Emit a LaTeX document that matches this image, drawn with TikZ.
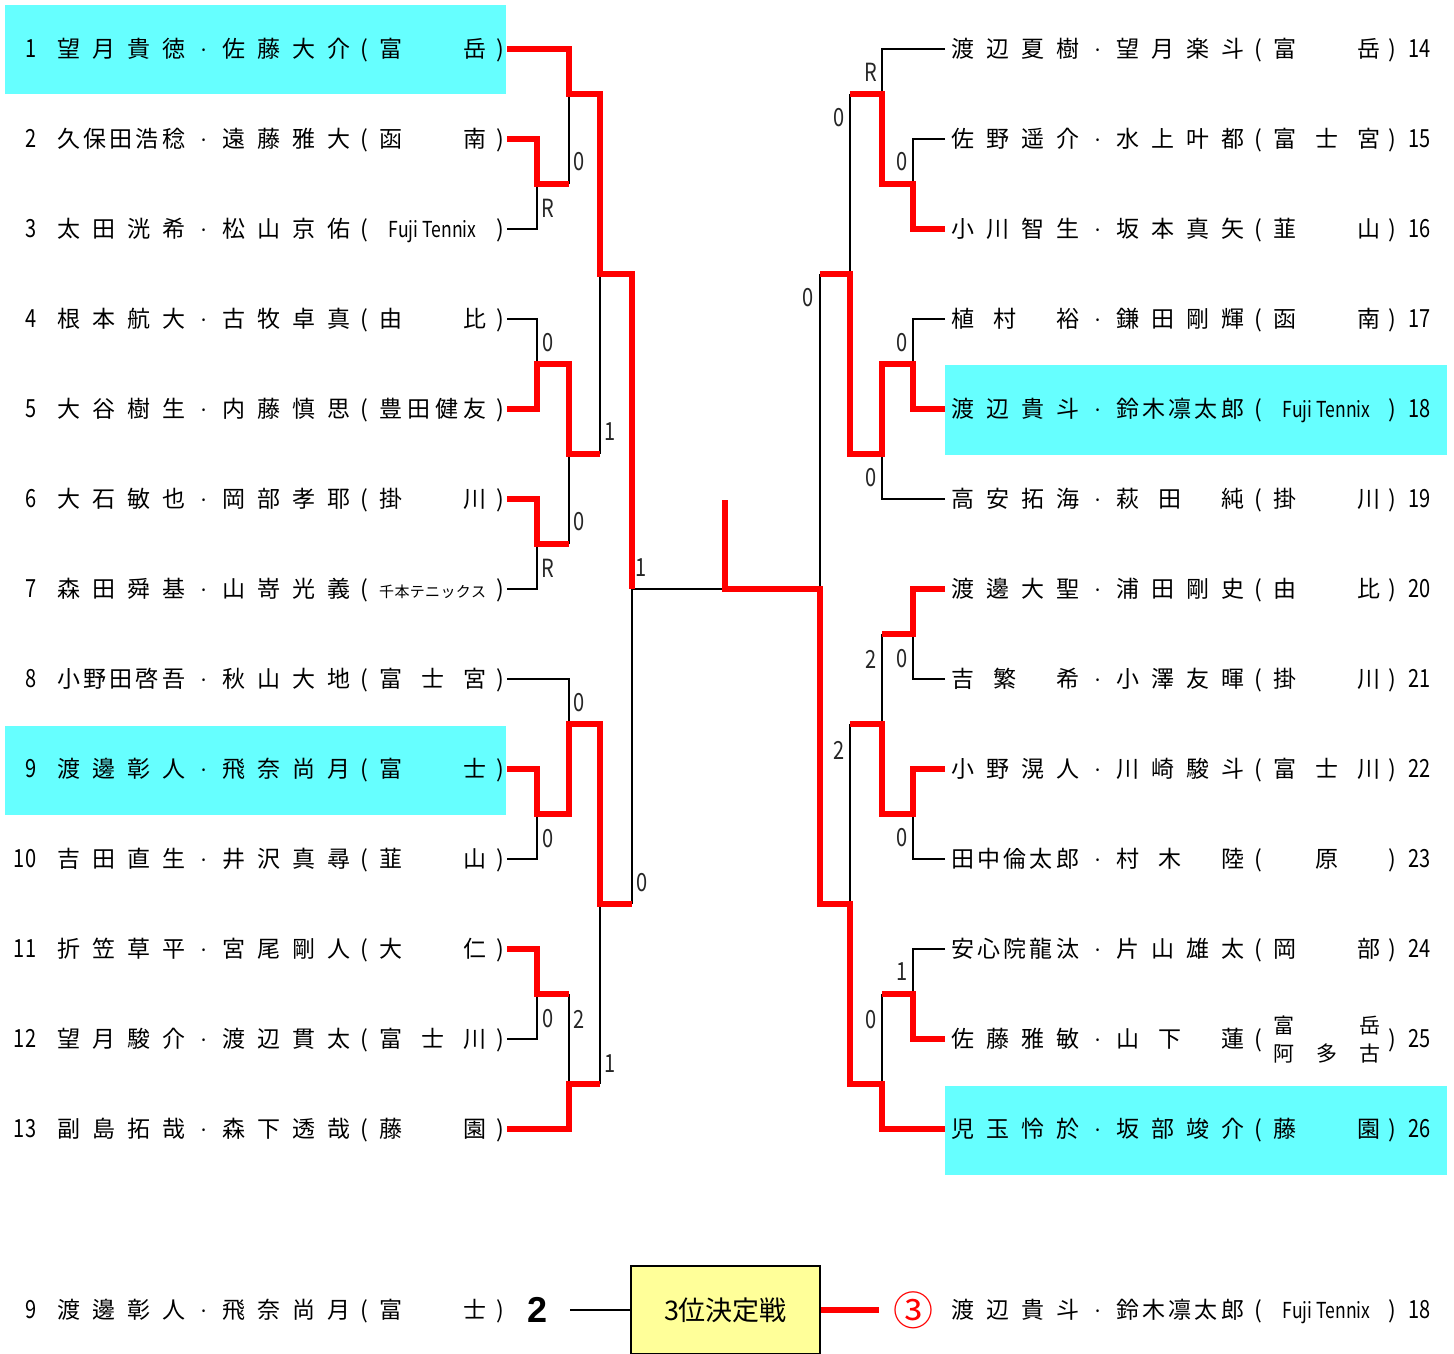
\documentclass[tikz,border=0pt]{standalone}
\usepackage{fontspec}
\usepackage{tikz}
\newfontfamily\jp{Noto Sans CJK JP}
\newfontfamily\jpn[FakeStretch=0.8]{Noto Sans CJK JP}
\newfontfamily\lat{Liberation Sans}
\definecolor{hilite}{HTML}{66FFFF}
\definecolor{thirdbg}{HTML}{FFFF99}

% digits and narrow latin
\newcommand\numf{\jpn\fontsize{25}{25}\selectfont}
% spread the characters of a field over its box, * leaves a blank cell
\def\spreadit#1{\sprdA#1\sprdEnd}
\def\sprdA#1#2\sprdEnd{\ifx*#1\else#1\fi\ifx\relax#2\relax\else\hfill\sprdA#2\sprdEnd\fi}
\newcommand\mdot{\makebox[37pt]{\fontsize{20}{20}\selectfont ·}}
\newcommand\lrow[4]{\makebox[36pt][r]{\numf #1}\hspace{21pt}%
  \makebox[128pt][s]{\spreadit{#2}}\mdot
  \makebox[128pt][s]{\spreadit{#3}}\makebox[29pt]{(}%
  \makebox[107pt][s]{\spreadit{#4}}\hspace{7pt}\makebox[14pt]{)}}
\newcommand\rrow[4]{\hspace{6pt}%
  \makebox[128pt][s]{\spreadit{#1}}\mdot
  \makebox[128pt][s]{\spreadit{#2}}\makebox[29pt]{(}%
  \makebox[107pt][s]{\spreadit{#3}}\makebox[25pt]{)}%
  \makebox[35pt][l]{\hspace{3pt}\numf #4}}
\newcommand\fuji{\hfill\jpn\fontsize{22}{22}\selectfont Fuji Tennix\hfill}
\newcommand\senbon{\fontsize{15}{15}\selectfont 千\hfill 本\hfill テ\hfill ニ\hfill ッ\hfill ク\hfill ス}
\newcommand\stackclub{\fontsize{21}{21}\selectfont
  \rlap{\raisebox{14pt}{\makebox[107pt][s]{富\hfill 岳}}}%
  \raisebox{-14pt}{\makebox[107pt][s]{阿\hfill 多\hfill 古}}}

\begin{document}
\begin{tikzpicture}[x=1pt,y=-1pt]
    \tikzset{entry/.style = {anchor=west,inner sep=0pt,text height=20pt,text depth=3pt,font=\jp\fontsize{23}{23}\selectfont}}
    \tikzset{score/.style = {inner sep=0pt,font=\numf,text=black!85}}
    \tikzset{win/.style = {draw=red,line width=6pt}}
    \tikzset{lose/.style = {draw=black,line width=2pt}}
    \tikzset{playoff/.style = {draw,line width=2pt,fill=thirdbg,minimum width=189pt,minimum height=88pt,inner sep=0pt,font=\jp\fontsize{27}{27}\selectfont}}
    \useasboundingbox (0,0) rectangle (1454,1354);

    % winners' rows
    \fill[hilite] (5,5) rectangle (506,94);
    \fill[hilite] (5,726) rectangle (506,815);
    \fill[hilite] (945,365) rectangle (1447,455);
    \fill[hilite] (945,1086) rectangle (1447,1175);

    \node[entry] (p1) at (0,49) {\lrow{1}{望月貴徳}{佐藤大介}{富岳}};
    \node[entry] (p2) at (0,139) {\lrow{2}{久保田浩稔}{遠藤雅大}{函南}};
    \node[entry] (p3) at (0,229) {\lrow{3}{太田洸希}{松山京佑}{{\fuji}}};
    \node[entry] (p4) at (0,319) {\lrow{4}{根本航大}{古牧卓真}{由比}};
    \node[entry] (p5) at (0,409) {\lrow{5}{大谷樹生}{内藤慎思}{豊田健友}};
    \node[entry] (p6) at (0,499) {\lrow{6}{大石敏也}{岡部孝耶}{掛川}};
    \node[entry] (p7) at (0,589) {\lrow{7}{森田舜基}{山嵜光義}{{\senbon}}};
    \node[entry] (p8) at (0,679) {\lrow{8}{小野田啓吾}{秋山大地}{富士宮}};
    \node[entry] (p9) at (0,769) {\lrow{9}{渡邊彰人}{飛奈尚月}{富士}};
    \node[entry] (p10) at (0,859) {\lrow{10}{吉田直生}{井沢真尋}{韮山}};
    \node[entry] (p11) at (0,949) {\lrow{11}{折笠草平}{宮尾剛人}{大仁}};
    \node[entry] (p12) at (0,1039) {\lrow{12}{望月駿介}{渡辺貫太}{富士川}};
    \node[entry] (p13) at (0,1129) {\lrow{13}{副島拓哉}{森下透哉}{藤園}};

    \node[entry] (p14) at (945,49) {\rrow{渡辺夏樹}{望月楽斗}{富岳}{14}};
    \node[entry] (p15) at (945,139) {\rrow{佐野遥介}{水上叶都}{富士宮}{15}};
    \node[entry] (p16) at (945,229) {\rrow{小川智生}{坂本真矢}{韮山}{16}};
    \node[entry] (p17) at (945,319) {\rrow{植村*裕}{鎌田剛輝}{函南}{17}};
    \node[entry] (p18) at (945,409) {\rrow{渡辺貴斗}{鈴木凛太郎}{{\fuji}}{18}};
    \node[entry] (p19) at (945,499) {\rrow{高安拓海}{萩田*純}{掛川}{19}};
    \node[entry] (p20) at (945,589) {\rrow{渡邊大聖}{浦田剛史}{由比}{20}};
    \node[entry] (p21) at (945,679) {\rrow{吉繁*希}{小澤友暉}{掛川}{21}};
    \node[entry] (p22) at (945,769) {\rrow{小野滉人}{川崎駿斗}{富士川}{22}};
    \node[entry] (p23) at (945,859) {\rrow{田中倫太郎}{村木*陸}{*原*}{23}};
    \node[entry] (p24) at (945,949) {\rrow{安心院龍汰}{片山雄太}{岡部}{24}};
    \node[entry] (p25) at (945,1039) {\rrow{佐藤雅敏}{山下*蓮}{{\stackclub}}{25}};
    \node[entry] (p26) at (945,1129) {\rrow{児玉怜於}{坂部竣介}{藤園}{26}};

    % junctions, left half
    \coordinate (j23) at (537,184);
    \coordinate (j45) at (537,364);
    \coordinate (j67) at (537,544);
    \coordinate (j910) at (537,814);
    \coordinate (j1112) at (537,994);
    \coordinate (j1a) at (569,94);
    \coordinate (j5a) at (569,454);
    \coordinate (j8a) at (569,724);
    \coordinate (j13a) at (569,1084);
    \coordinate (j1b) at (600,274);
    \coordinate (j9b) at (600,904);
    \coordinate (jl) at (632,589);
    % junctions, right half
    \coordinate (j1516) at (913,184);
    \coordinate (j1718) at (913,364);
    \coordinate (j2021) at (913,634);
    \coordinate (j2223) at (913,814);
    \coordinate (j2425) at (913,994);
    \coordinate (j14a) at (882,94);
    \coordinate (j18a) at (882,454);
    \coordinate (j22a) at (882,724);
    \coordinate (j26a) at (882,1084);
    \coordinate (j18b) at (850,274);
    \coordinate (j26b) at (850,904);
    \coordinate (jr) at (820,589);
    \coordinate (mid) at (725,589);
    \coordinate (top) at (725,500);

    \draw[lose] (p3.east) -| (j23);
    \draw[lose] (p4.east) -| (j45);
    \draw[lose] (p7.east) -| (j67);
    \draw[lose] (j1a) -- (j1a |- j23);
    \draw[lose] (j5a) -- (j5a |- j67);
    \draw[lose] (j1b) -- (j1b |- j5a);
    \draw[lose] (jl) -- (jl |- j9b);
    \draw[lose] (jl) -- (mid);
    \draw[lose] (p8.east) -| (j8a);
    \draw[lose] (p10.east) -| (j910);
    \draw[lose] (p12.east) -| (j1112);
    \draw[lose] (j13a) -- (j13a |- j1112);
    \draw[lose] (j9b) -- (j9b |- j13a);

    \draw[lose] (p14.west) -| (j14a);
    \draw[lose] (p15.west) -| (j1516);
    \draw[lose] (j18b |- j14a) -- (j18b);
    \draw[lose] (p17.west) -| (j1718);
    \draw[lose] (p19.west) -| (j18a);
    \draw[lose] (jr |- j18b) -- (jr);
    \draw[lose] (p21.west) -| (j2021);
    \draw[lose] (j22a |- j2021) -- (j22a);
    \draw[lose] (p23.west) -| (j2223);
    \draw[lose] (j26b |- j22a) -- (j26b);
    \draw[lose] (p24.west) -| (j2425);
    \draw[lose] (j26a |- j2425) -- (j26a);

    \draw[win] (p1.east) -| (j1a) -| (j1b) -| (jl);
    \draw[win] (p2.east) -| (j23) -- (j23 -| j1a);
    \draw[win] (p5.east) -| (j45) -| (j5a) -- (j5a -| j1b);
    \draw[win] (p6.east) -| (j67) -- (j67 -| j5a);
    \draw[win] (p9.east) -| (j910) -| (j8a) -| (j9b) -- (j9b -| jl);
    \draw[win] (p11.east) -| (j1112) -- (j1112 -| j13a);
    \draw[win] (p13.east) -| (j13a) -- (j13a -| j9b);

    \draw[win] (p16.west) -| (j1516) -| (j14a) -- (j14a -| j18b);
    \draw[win] (p18.west) -| (j1718) -| (j18a) -| (j18b) -- (j18b -| jr);
    \draw[win] (p20.west) -| (j2021) -- (j2021 -| j22a);
    \draw[win] (p22.west) -| (j2223) -| (j22a) -- (j22a -| j26b);
    \draw[win] (p25.west) -| (j2425) -- (j2425 -| j26a);
    \draw[win] (p26.west) -| (j26a) -| (j26b) -| (jr) -- (mid) -- (top);

    % scores
    \node[score] (s1) at (579,162) {0};
    \node[score] (s2) at (548,208) {R};
    \node[score] (s3) at (548,343) {0};
    \node[score] (s4) at (610,432) {1};
    \node[score] (s5) at (579,522) {0};
    \node[score] (s6) at (548,568) {R};
    \node[score] (s7) at (641,568) {1};
    \node[score] (s8) at (579,703) {0};
    \node[score] (s9) at (548,839) {0};
    \node[score] (s10) at (642,883) {0};
    \node[score] (s11) at (548,1019) {0};
    \node[score] (s12) at (579,1019) {2};
    \node[score] (s13) at (610,1064) {1};
    \node[score] (s14) at (871,72) {R};
    \node[score] (s15) at (839,118) {0};
    \node[score] (s16) at (902,162) {0};
    \node[score] (s17) at (808,298) {0};
    \node[score] (s18) at (902,343) {0};
    \node[score] (s19) at (871,478) {0};
    \node[score] (s20) at (871,659) {2};
    \node[score] (s21) at (902,659) {0};
    \node[score] (s22) at (839,750) {2};
    \node[score] (s23) at (902,838) {0};
    \node[score] (s24) at (902,972) {1};
    \node[score] (s25) at (871,1020) {0};

    % third place match
    \node[entry] (q9) at (0,1310) {\lrow{9}{渡邊彰人}{飛奈尚月}{富士}};
    \node[inner sep=0pt,font=\lat\bfseries\fontsize{36}{36}\selectfont] (sc) at (538,1310) {2};
    \node[playoff] (bx) at (725.5,1310) {3位決定戦};
    \node[inner sep=0pt,text=red,font=\jp\fontsize{40}{40}\selectfont] (c3) at (913,1310) {③};
    \node[entry] (q18) at (945,1310) {\rrow{渡辺貴斗}{鈴木凛太郎}{{\fuji}}{18}};
    \draw[lose,shorten <=22pt] (sc.east) -- (bx.west);
    \draw[win,shorten >=14pt] (bx.east) -- (c3.west);
\end{tikzpicture}
\end{document}
